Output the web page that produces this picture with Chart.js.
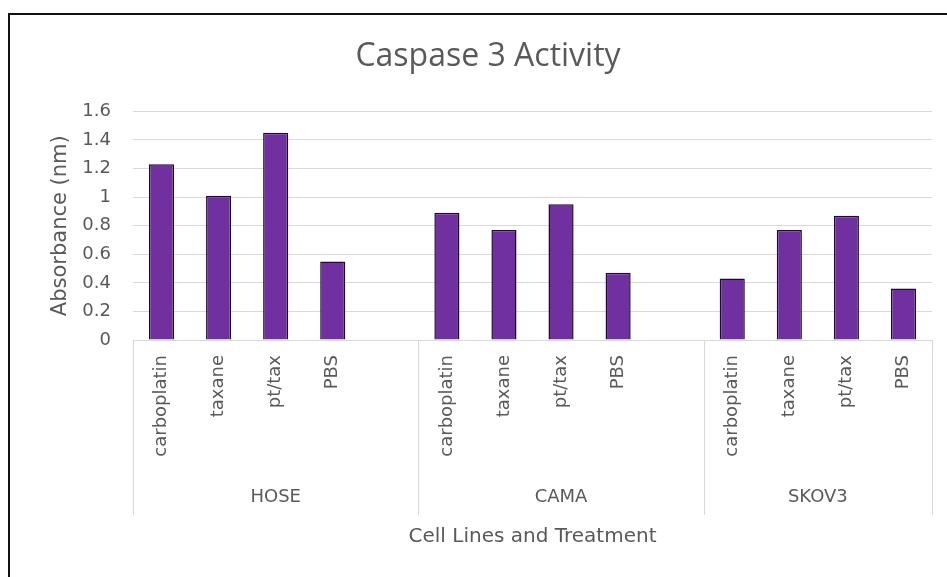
<!DOCTYPE html>
<html>
<head>
<meta charset="utf-8">
<script src="https://cdn.jsdelivr.net/npm/chart.js@4.4.1/dist/chart.umd.min.js"></script>
<style>
  html, body { margin: 0; padding: 0; background: #fff; }
  #wrap { position: relative; width: 947px; height: 577px; }
  #frame { position: absolute; left: 8px; top: 13px; right: -10px; bottom: -10px;
           border-top: 2px solid #111; border-left: 2px solid #111; pointer-events: none; }
  canvas { position: absolute; left: 0; top: 0; }
</style>
</head>
<body>
<div id="wrap">
  <canvas id="caspase" width="947" height="577"></canvas>
  <div id="frame"></div>
</div>
<script>
// data
const cellLines = ['HOSE', 'CAMA', 'SKOV3'];
const treatments = ['carboplatin', 'taxane', 'pt/tax', 'PBS'];
const hoseValues = [1.23, 1.01, 1.45, 0.55];
const camaValues = [0.89, 0.77, 0.95, 0.47];
const skov3Values = [0.43, 0.77, 0.87, 0.36];
const groupValues = [hoseValues, camaValues, skov3Values];

const FONT = "'DejaVu Sans', sans-serif";
const TITLE_FONT = "'Open Sans', sans-serif";
const GREY = '#595959';

// build flat category list with an empty slot between cell lines (like excel)
const labels = [];
const values = [];
const groups = [];
cellLines.forEach((line, g) => {
    const start = labels.length;
    treatments.forEach((t, i) => {
        labels.push(t);
        values.push(groupValues[g][i]);
    });
    if (g < cellLines.length - 1) {
        labels.push('');
        values.push(null);
    }
    groups.push({ name: line, start: start, end: labels.length - 1 });
});

const groupAxis = {
    id: 'groupAxis',
    afterDraw(chart) {
        const x = chart.scales.x;
        const ctx = chart.ctx;
        const base = chart.chartArea.bottom;
        const half = (x.getPixelForValue(1) - x.getPixelForValue(0)) / 2;
        ctx.save();
        ctx.strokeStyle = '#d9d9d9';
        ctx.lineWidth = 1;
        ctx.fillStyle = GREY;
        ctx.font = '18px ' + FONT;
        ctx.textAlign = 'center';
        ctx.textBaseline = 'middle';
        groups.forEach((grp, i) => {
            const left = x.getPixelForValue(grp.start) - half;
            const right = x.getPixelForValue(grp.end) + half;
            if (i === 0) {
                ctx.beginPath();
                ctx.moveTo(Math.round(left) + 0.5, base);
                ctx.lineTo(Math.round(left) + 0.5, base + 175);
                ctx.stroke();
            }
            ctx.beginPath();
            ctx.moveTo(Math.round(right) + 0.5, base);
            ctx.lineTo(Math.round(right) + 0.5, base + 175);
            ctx.stroke();
            ctx.fillText(grp.name, (left + right) / 2, base + 157);
        });
        ctx.restore();
    }
};

new Chart(document.getElementById('caspase'), {
    type: 'bar',
    data: {
        labels: labels,
        datasets: [{
            label: 'Absorbance',
            data: values,
            backgroundColor: '#7030A0',
            borderColor: '#1e0b2e',
            borderWidth: 1.5,
            barPercentage: 0.44,
            categoryPercentage: 1
        }]
    },
    options: {
        responsive: false,
        animation: false,
        devicePixelRatio: 1,
        layout: { padding: { left: 44, right: 15, top: 0, bottom: 0 } },
        plugins: {
            legend: { display: false },
            tooltip: { enabled: false },
            title: {
                display: true,
                text: 'Caspase 3 Activity',
                color: GREY,
                font: { family: TITLE_FONT, size: 32, weight: 'normal' },
                padding: { top: 38, bottom: 35 }
            }
        },
        scales: {
            x: {
                offset: true,
                grid: { display: false, drawTicks: false },
                border: { display: true, color: '#d9d9d9', width: 1 },
                ticks: {
                    color: GREY,
                    font: { family: FONT, size: 18 },
                    minRotation: 90,
                    maxRotation: 90,
                    autoSkip: false,
                    padding: 15
                },
                title: {
                    display: true,
                    text: 'Cell Lines and Treatment',
                    color: GREY,
                    font: { family: FONT, size: 20 },
                    padding: { top: 4, bottom: 28 }
                },
                afterFit(scale) { scale.height = 237; }
            },
            y: {
                min: 0,
                max: 1.6,
                grid: { color: '#d9d9d9', drawTicks: false },
                border: { display: false },
                ticks: {
                    stepSize: 0.2,
                    color: GREY,
                    font: { family: FONT, size: 18 },
                    padding: 22,
                    callback: (v) => String(Number(v.toFixed(1)))
                },
                title: {
                    display: true,
                    text: 'Absorbance (nm)',
                    color: GREY,
                    font: { family: FONT, size: 21 }
                },
                afterFit(scale) { scale.width = 89; }
            }
        }
    },
    plugins: [groupAxis]
});
</script>
</body>
</html>
